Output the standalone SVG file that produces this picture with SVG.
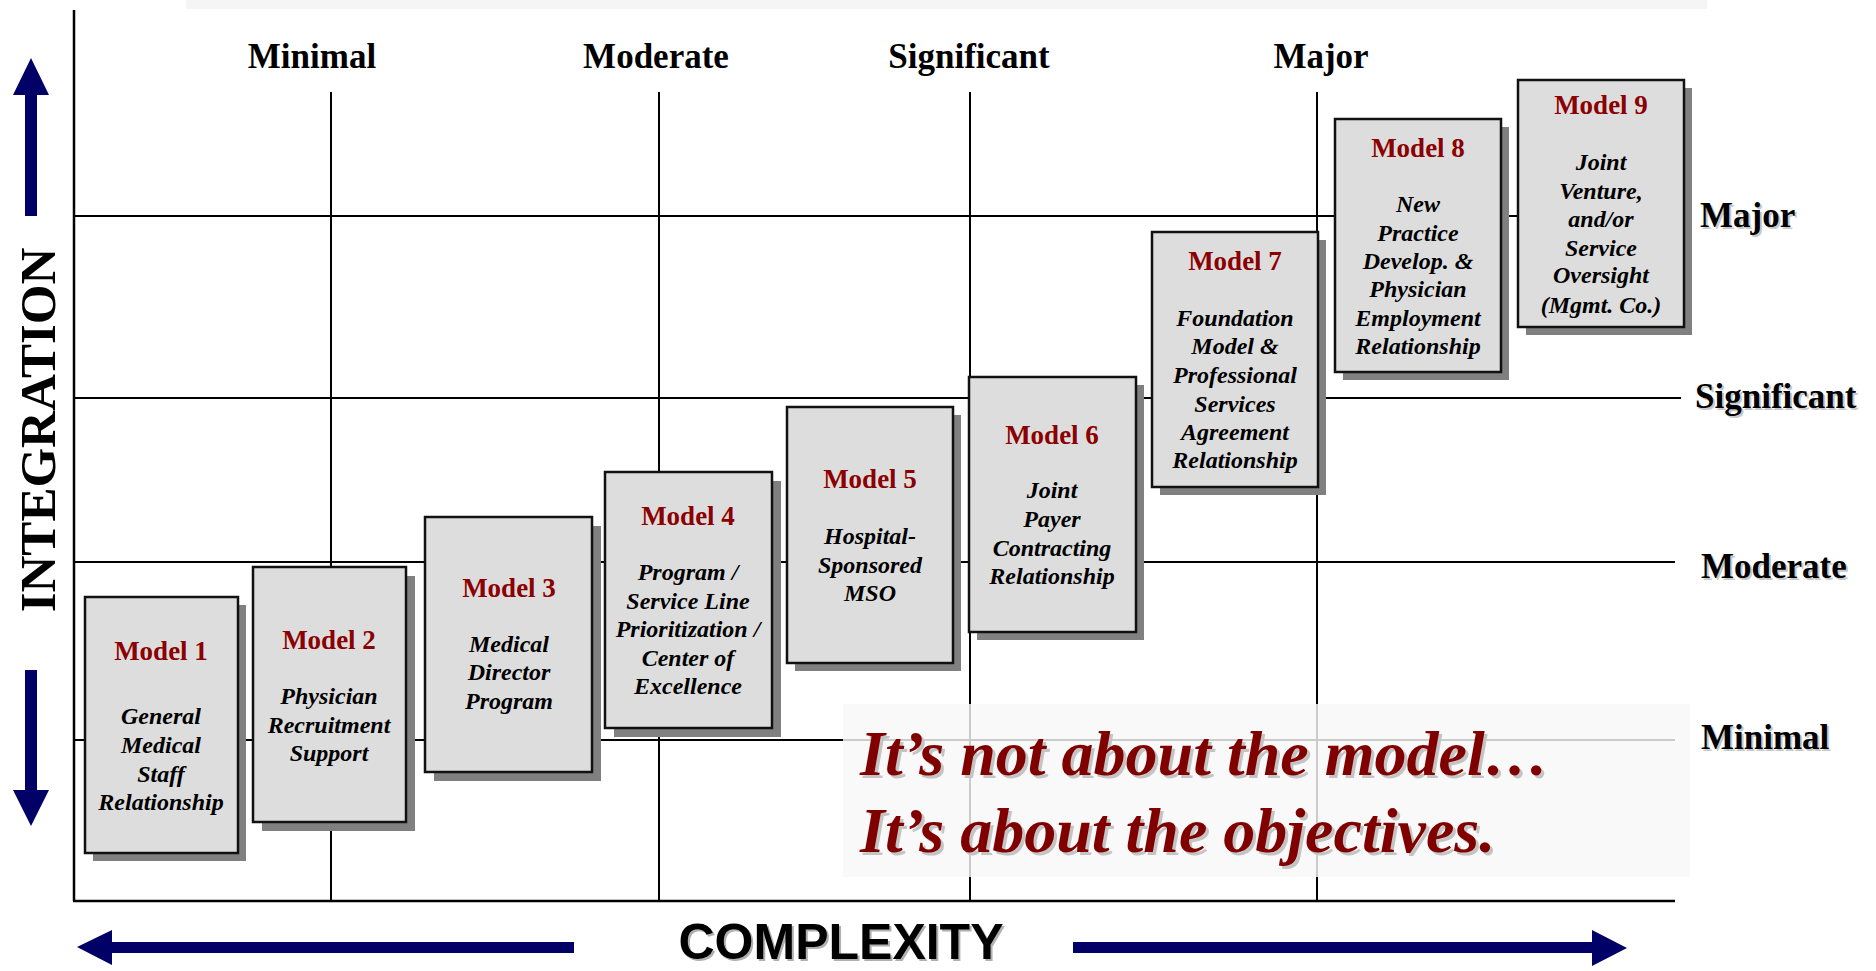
<svg xmlns="http://www.w3.org/2000/svg" width="1876" height="971" viewBox="0 0 1876 971">
<style>
.grid{stroke:#000;stroke-width:2;fill:none}
.axis{stroke:#000;stroke-width:2.5;fill:none}
.lbl{font-family:"Liberation Serif","Times New Roman",serif;font-weight:bold;font-size:35px;fill:#000}
.lblsh{font-family:"Liberation Serif","Times New Roman",serif;font-weight:bold;font-size:35px;fill:#c8c8c8}
.shadow{fill:#808080}
.box{fill:#dddddd;stroke:#111;stroke-width:2.5}
.title{font-family:"Liberation Serif","Times New Roman",serif;font-weight:bold;font-size:27px;fill:#8b0000;text-anchor:middle}
.body{font-family:"Liberation Serif","Times New Roman",serif;font-weight:bold;font-style:italic;font-size:24px;fill:#000;text-anchor:middle}
.quote{font-family:"Liberation Serif","Times New Roman",serif;font-weight:bold;font-style:italic;font-size:64px;fill:#800000}
.quotesh{font-family:"Liberation Serif","Times New Roman",serif;font-weight:bold;font-style:italic;font-size:64px;fill:#c4c4c4}
.arrow{fill:#000066}
</style>
<rect x="0" y="0" width="1876" height="971" fill="#fff"/>
<rect x="186" y="0" width="1521" height="9" fill="#f5f5f5"/>

<g id="grid">
<line class="axis" x1="74" y1="10" x2="74" y2="901"/>
<line class="axis" x1="73" y1="901" x2="1675" y2="901"/>
<line class="grid" x1="331" y1="92" x2="331" y2="901"/>
<line class="grid" x1="659" y1="92" x2="659" y2="901"/>
<line class="grid" x1="970" y1="92" x2="970" y2="901"/>
<line class="grid" x1="1317" y1="92" x2="1317" y2="901"/>
<line class="grid" x1="74" y1="216" x2="1600" y2="216"/>
<line class="grid" x1="74" y1="398" x2="1681" y2="398"/>
<line class="grid" x1="74" y1="562" x2="1675" y2="562"/>
<line class="grid" x1="74" y1="740" x2="1675" y2="740"/>
</g>

<g id="quote-box">
<rect x="843" y="704" width="847" height="173" fill="#f8f8f8" fill-opacity="0.82"/>
</g>

<g id="column-labels">
<text class="lbl" x="312" y="68" text-anchor="middle">Minimal</text>
<text class="lbl" x="656" y="68" text-anchor="middle">Moderate</text>
<text class="lbl" x="969" y="68" text-anchor="middle">Significant</text>
<text class="lbl" x="1321" y="68" text-anchor="middle">Major</text>
</g>

<g id="row-labels">
<text class="lblsh" x="1702" y="229">Major</text>
<text class="lbl" x="1700" y="227">Major</text>
<text class="lblsh" x="1697" y="410">Significant</text>
<text class="lbl" x="1695" y="408">Significant</text>
<text class="lblsh" x="1703" y="580">Moderate</text>
<text class="lbl" x="1701" y="578">Moderate</text>
<text class="lblsh" x="1703" y="751">Minimal</text>
<text class="lbl" x="1701" y="749">Minimal</text>
</g>

<g id="integration-label">
<text class="lbl" style="font-size:51px" text-anchor="middle" transform="translate(55,430) rotate(-90)">INTEGRATION</text>
</g>

<g id="complexity-label">
<text x="843" y="961" text-anchor="middle" font-family="'Liberation Sans',Arial,sans-serif" font-weight="bold" font-size="50" fill="#b0b0b0">COMPLEXITY</text>
<text x="841" y="959" text-anchor="middle" font-family="'Liberation Sans',Arial,sans-serif" font-weight="bold" font-size="50" fill="#000">COMPLEXITY</text>
</g>

<g id="connectors">
<polygon class="arrow" points="31,58 49,95 37,95 37,216 25,216 25,95 13,95"/>
<polygon class="arrow" points="31,826 49,790 37,790 37,670 25,670 25,790 13,790"/>
<polygon class="arrow" points="77,947 112,930 112,942 574,942 574,953 112,953 112,965"/>
<polygon class="arrow" points="1627,948 1592,930 1592,942 1073,942 1073,953 1592,953 1592,966"/>
</g>

<g id="model1">
<rect class="shadow" x="93" y="605" width="153" height="256"/>
<rect class="box" x="85" y="597" width="153" height="256"/>
<text class="title" x="161" y="660">Model 1</text>
<text class="body" x="161" y="724">General</text>
<text class="body" x="161" y="753">Medical</text>
<text class="body" x="161" y="782">Staff</text>
<text class="body" x="161" y="810">Relationship</text>
</g>

<g id="model2">
<rect class="shadow" x="262" y="576" width="153" height="255"/>
<rect class="box" x="253" y="567" width="153" height="255"/>
<text class="title" x="329" y="649">Model 2</text>
<text class="body" x="329" y="704">Physician</text>
<text class="body" x="329" y="733">Recruitment</text>
<text class="body" x="329" y="761">Support</text>
</g>

<g id="model3">
<rect class="shadow" x="434" y="526" width="167" height="255"/>
<rect class="box" x="425" y="517" width="167" height="255"/>
<text class="title" x="509" y="597">Model 3</text>
<text class="body" x="509" y="652">Medical</text>
<text class="body" x="509" y="680">Director</text>
<text class="body" x="509" y="709">Program</text>
</g>

<g id="model4">
<rect class="shadow" x="614" y="481" width="167" height="256"/>
<rect class="box" x="605" y="472" width="167" height="256"/>
<text class="title" x="688" y="525">Model 4</text>
<text class="body" x="688" y="580">Program /</text>
<text class="body" x="688" y="609">Service Line</text>
<text class="body" x="688" y="637">Prioritization /</text>
<text class="body" x="688" y="666">Center of</text>
<text class="body" x="688" y="694">Excellence</text>
</g>

<g id="model5">
<rect class="shadow" x="795" y="415" width="166" height="256"/>
<rect class="box" x="787" y="407" width="166" height="256"/>
<text class="title" x="870" y="488">Model 5</text>
<text class="body" x="870" y="544">Hospital-</text>
<text class="body" x="870" y="573">Sponsored</text>
<text class="body" x="870" y="601">MSO</text>
</g>

<g id="model6">
<rect class="shadow" x="977" y="385" width="167" height="255"/>
<rect class="box" x="969" y="377" width="167" height="255"/>
<text class="title" x="1052" y="444">Model 6</text>
<text class="body" x="1052" y="498">Joint</text>
<text class="body" x="1052" y="527">Payer</text>
<text class="body" x="1052" y="556">Contracting</text>
<text class="body" x="1052" y="584">Relationship</text>
</g>

<g id="model7">
<rect class="shadow" x="1160" y="240" width="166" height="255"/>
<rect class="box" x="1152" y="232" width="166" height="255"/>
<text class="title" x="1235" y="270">Model 7</text>
<text class="body" x="1235" y="326">Foundation</text>
<text class="body" x="1235" y="354">Model &amp;</text>
<text class="body" x="1235" y="383">Professional</text>
<text class="body" x="1235" y="412">Services</text>
<text class="body" x="1235" y="440">Agreement</text>
<text class="body" x="1235" y="468">Relationship</text>
</g>

<g id="model8">
<rect class="shadow" x="1343" y="127" width="166" height="253"/>
<rect class="box" x="1335" y="119" width="166" height="253"/>
<text class="title" x="1418" y="157">Model 8</text>
<text class="body" x="1418" y="212">New</text>
<text class="body" x="1418" y="241">Practice</text>
<text class="body" x="1418" y="269">Develop. &amp;</text>
<text class="body" x="1418" y="297">Physician</text>
<text class="body" x="1418" y="326">Employment</text>
<text class="body" x="1418" y="354">Relationship</text>
</g>

<g id="model9">
<rect class="shadow" x="1526" y="88" width="166" height="247"/>
<rect class="box" x="1518" y="80" width="166" height="247"/>
<text class="title" x="1601" y="114">Model 9</text>
<text class="body" x="1601" y="170">Joint</text>
<text class="body" x="1601" y="199">Venture,</text>
<text class="body" x="1601" y="227">and/or</text>
<text class="body" x="1601" y="256">Service</text>
<text class="body" x="1601" y="283">Oversight</text>
<text class="body" x="1601" y="313">(Mgmt. Co.)</text>
</g>

<g id="quote">
<text class="quotesh" x="863" y="778">It’s not about the model…</text>
<text class="quote" x="860" y="775">It’s not about the model…</text>
<text class="quotesh" x="863" y="855">It’s about the objectives.</text>
<text class="quote" x="860" y="852">It’s about the objectives.</text>
</g>
</svg>
